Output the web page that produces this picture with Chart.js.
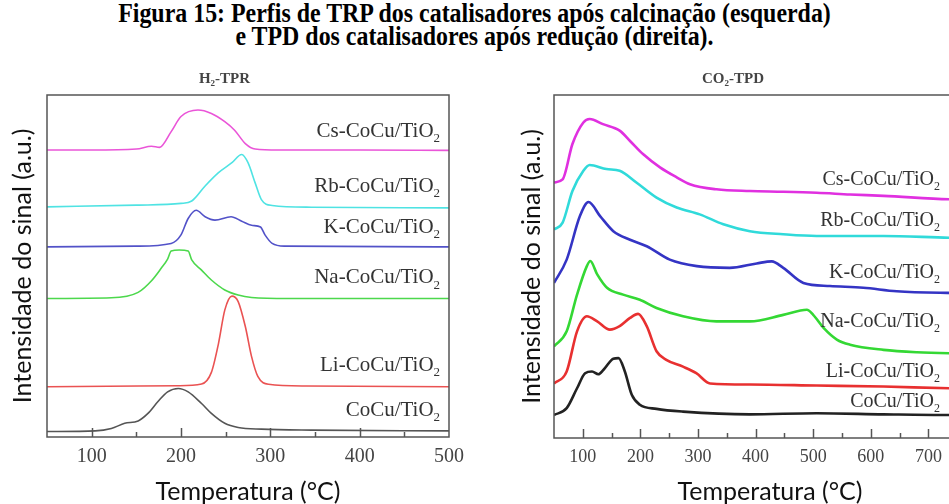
<!DOCTYPE html>
<html>
<head>
<meta charset="utf-8">
<script src="https://cdn.jsdelivr.net/npm/chart.js@4.4.0/dist/chart.umd.min.js"></script>
<style>
html, body { margin: 0; padding: 0; background: #fff; width: 949px; height: 504px; overflow: hidden; }
#caption { position: absolute; left: 0; top: 2px; width: 949px; text-align: center;
  font: bold 27px "Liberation Serif", serif; line-height: 23px; color: #000;
  transform: scaleX(0.885); transform-origin: 474.5px 0; }
.box { position: absolute; top: 60px; height: 444px; }
#leftBox { left: 0; width: 480px; }
#rightBox { left: 480px; width: 530px; }
</style>
</head>
<body>
<div id="caption">Figura 15: Perfis de TRP dos catalisadores após calcinação (esquerda)<br>e TPD dos catalisadores após redução (direita).</div>
<div class="box" id="leftBox"><canvas id="tprChart"></canvas></div>
<div class="box" id="rightBox"><canvas id="tpdChart"></canvas></div>

<script>
// SERIES NAMES (top to bottom)
const seriesNames = ['Cs-CoCu/TiO', 'Rb-CoCu/TiO', 'K-CoCu/TiO', 'Na-CoCu/TiO', 'Li-CoCu/TiO', 'CoCu/TiO'];

// H2-TPR (left) - temperature (°C) and stacked intensity (a.u., offset included)
const tprCsT = [50, 100, 150, 167, 176, 189, 200, 219, 234, 249, 260, 272, 283, 309, 400, 500];
const tprCsY = [83.9, 83.9, 84.2, 85.0, 84.7, 89.3, 93.7, 95.6, 94.6, 92.2, 89.7, 85.8, 84.2, 83.9, 83.9, 83.8];
const tprRbT = [50, 150, 200, 212, 227, 242, 257, 268, 275, 283, 290, 302, 346, 500];
const tprRbY = [67.3, 67.8, 68.3, 69.0, 73.4, 77.3, 80.2, 82.6, 80.2, 74.3, 69.4, 67.7, 67.2, 67.0];
const tprKT = [50, 150, 189, 200, 208, 217, 227, 238, 256, 268, 279, 289, 294, 302, 316, 500];
const tprKY = [55.6, 55.8, 56.6, 59.1, 63.9, 66.3, 64.4, 63.4, 64.4, 63.1, 61.9, 61.4, 59.1, 56.6, 55.8, 55.6];
const tprNaT = [50, 122, 152, 167, 178, 185, 189, 198, 208, 212, 223, 234, 249, 264, 279, 320, 500];
const tprNaY = [40.5, 40.7, 42.3, 45.7, 49.4, 52.0, 54.4, 54.7, 54.4, 51.8, 48.8, 45.9, 43.0, 41.5, 40.8, 40.5, 40.5];
const tprLiT = [50, 197, 223, 234, 242, 249, 257, 264, 272, 279, 286, 298, 340, 500];
const tprLiY = [14.7, 15.0, 15.5, 18.9, 27.4, 37.1, 41.2, 39.6, 32.3, 23.5, 17.7, 15.4, 14.9, 14.7];
const tprCoT = [50, 104, 122, 137, 152, 163, 174, 185, 197, 208, 223, 234, 249, 264, 290, 346, 500];
const tprCoY = [1.6, 1.8, 2.5, 4.0, 4.7, 6.9, 10.3, 13.2, 14.2, 13.2, 9.8, 6.9, 4.0, 2.8, 2.3, 2.0, 1.8];

// CO2-TPD (right)
const tpdCsT = [50, 65, 82, 101, 112, 135, 164, 182, 205, 234, 263, 286, 332, 390, 448, 506, 564, 622, 736, 800];
const tpdCsY = [74.5, 75.4, 85.7, 92.0, 93.0, 91.5, 89.6, 86.6, 82.7, 78.9, 76.0, 74.0, 72.5, 72.0, 71.8, 71.5, 71.0, 70.6, 69.6, 69.4];
const tpdRbT = [50, 65, 82, 101, 112, 141, 164, 193, 228, 263, 303, 344, 390, 448, 506, 622, 736, 800];
const tpdRbY = [60.8, 62.8, 72.0, 77.9, 79.6, 78.4, 77.9, 74.5, 70.1, 67.2, 65.2, 62.3, 60.3, 59.4, 58.9, 58.9, 58.4, 58.3];
const tpdKT = [50, 72, 95, 110, 130, 153, 182, 211, 251, 298, 355, 402, 428, 448, 483, 529, 587, 645, 732, 800];
const tpdKY = [45.2, 52.0, 64.7, 68.8, 64.7, 60.3, 57.8, 55.9, 52.0, 50.1, 49.6, 50.9, 51.5, 49.6, 45.2, 44.3, 43.8, 42.8, 42.3, 42.2];
const tpdNaT = [50, 72, 90, 107, 113, 125, 142, 170, 199, 228, 274, 332, 390, 448, 489, 500, 518, 541, 564, 622, 680, 736, 800];
const tpdNaY = [26.7, 31.1, 41.8, 50.1, 51.6, 47.7, 43.8, 41.8, 40.3, 37.9, 35.5, 34.0, 34.0, 35.9, 37.4, 35.9, 32.1, 28.7, 27.2, 25.7, 25.0, 24.7, 24.6];
const tpdLiT = [50, 72, 90, 107, 125, 147, 164, 182, 196, 211, 228, 245, 274, 297, 321, 390, 506, 622, 736, 800];
const tpdLiY = [15.9, 19.4, 31.1, 35.5, 34.0, 31.6, 32.6, 35.0, 36.2, 32.6, 25.3, 22.8, 20.8, 18.9, 15.9, 15.6, 15.3, 15.0, 14.5, 14.4];
const tpdCoT = [50, 72, 90, 104, 116, 127, 136, 153, 162, 173, 185, 199, 228, 274, 390, 506, 622, 736, 800];
const tpdCoY = [6.7, 8.7, 14.5, 18.9, 19.4, 18.6, 19.9, 23.1, 23.3, 19.4, 12.6, 9.7, 8.5, 7.7, 6.9, 7.2, 6.9, 6.7, 6.7];

const toPoints = (t, v) => t.map((x, i) => ({ x: x, y: v[i] }));

// FRAME, INWARD TICKS AND CURVE LABELS

const framePlugin = {
	id: 'frame',
	afterDatasetsDraw(chart, args, opts) {
		const { ctx, chartArea: a, scales: { x, y } } = chart;
		ctx.save();
		ctx.strokeStyle = '#555';
		ctx.lineWidth = 1.5;
		ctx.strokeRect(a.left, a.top, a.right - a.left, a.bottom - a.top);
		x.ticks.forEach(t => {
			if (t.value <= x.min || t.value >= x.max) return;
			const px = Math.round(x.getPixelForValue(t.value)) + 0.5;
			const len = t.value % 100 === 0 ? 9 : 5;
			ctx.beginPath();
			ctx.moveTo(px, a.bottom);
			ctx.lineTo(px, a.bottom - len);
			ctx.stroke();
		});

		ctx.fillStyle = '#333';
		ctx.textBaseline = 'middle';
		const big = opts.size + 'px "Liberation Serif"';
		const small = Math.round(opts.size * 0.62) + 'px "Liberation Serif"';
		seriesNames.forEach((name, i) => {
			const data = chart.data.datasets[i].data;
			const py = y.getPixelForValue(data[data.length - 1].y + opts.dy[i]);
			const right = x.getPixelForValue(opts.labelX);
			ctx.font = big;
			const w = ctx.measureText(name).width;
			ctx.font = small;
			const ws = ctx.measureText('2').width;
			ctx.font = big;
			ctx.fillText(name, right - w - ws, py);
			ctx.font = small;
			ctx.fillText('2', right - ws, py + opts.size * 0.35);
		});
		ctx.restore();
	}
};

function makeChart(canvasId, cfg) {
	const datasets = cfg.series.map((s, i) => ({
		data: toPoints(s[0], s[1]),
		borderColor: cfg.colors[i],
		borderWidth: cfg.lineWidth,
		pointRadius: 0,
		fill: false,
		tension: 0.4,
		cubicInterpolationMode: 'monotone',
	}));

	return new Chart(document.getElementById(canvasId), {
		type: 'line',
		data: { datasets: datasets },
		options: {
			responsive: true,
			maintainAspectRatio: false,
			animation: false,
			layout: { padding: { top: 0, right: cfg.padRight, bottom: 0, left: 0 } },
			plugins: {
				legend: { display: false },
				tooltip: { enabled: false },
				title: {
					display: true,
					text: cfg.title,
					color: '#444',
					font: { family: '"Liberation Serif"', size: 15, weight: 'bold', lineHeight: 1.2 },
					padding: { top: 10, bottom: 7 },
				},
				frame: { labelX: cfg.labelX, dy: cfg.labelDy, size: cfg.labelSize },
			},
			scales: {
				x: {
					type: 'linear',
					min: cfg.xMin,
					max: cfg.xMax,
					grid: { display: false },
					border: { display: false },
					afterFit: s => { s.height = cfg.xHeight; },
					ticks: {
						stepSize: 50,
						autoSkip: false,
						maxRotation: 0,
						padding: 0,
						color: '#444',
						font: { family: '"Liberation Serif"', size: cfg.tickSize },
						callback: v => (v % 100 === 0 ? v : ''),
					},
					title: {
						display: true,
						text: 'Temperatura (°C)',
						color: '#111',
						font: { family: 'Lato', size: 25, lineHeight: 1 },
						padding: { top: 0, bottom: 0 },
					},
				},
				y: {
					min: 0,
					max: 100,
					grid: { display: false },
					border: { display: false },
					ticks: { display: false },
					afterFit: s => { s.width = cfg.yWidth; },
					title: {
						display: true,
						text: 'Intensidade do sinal (a.u.)',
						color: '#111',
						font: { family: 'Lato', size: 25, lineHeight: 1 },
						padding: { top: cfg.yTitlePad, bottom: 0 },
					},
				},
			},
		},
		plugins: [framePlugin],
	});
}

makeChart('tprChart', {
	title: 'H₂-TPR',
	series: [[tprCsT, tprCsY], [tprRbT, tprRbY], [tprKT, tprKY], [tprNaT, tprNaY], [tprLiT, tprLiY], [tprCoT, tprCoY]],
	colors: ['#ea55d8', '#4fe3e3', '#5252c8', '#4cd84c', '#ea5252', '#555555'],
	lineWidth: 1.6,
	xMin: 50, xMax: 500,
	xHeight: 67, yWidth: 47, yTitlePad: 10, padRight: 31,
	tickSize: 20,
	labelX: 490, labelDy: [5.6, 6.2, 5.6, 6.0, 6.2, 6.0], labelSize: 21,
});

makeChart('tpdChart', {
	title: 'CO₂-TPD',
	series: [[tpdCsT, tpdCsY], [tpdRbT, tpdRbY], [tpdKT, tpdKY], [tpdNaT, tpdNaY], [tpdLiT, tpdLiY], [tpdCoT, tpdCoY]],
	colors: ['#e030e0', '#30dada', '#3434c4', '#34d834', '#e83030', '#222222'],
	lineWidth: 2.6,
	xMin: 50, xMax: 800,
	xHeight: 66, yWidth: 74, yTitlePad: 39, padRight: 24,
	tickSize: 18,
	labelX: 720, labelDy: [6.0, 4.9, 6.0, 9.4, 5.0, 3.9], labelSize: 20,
});
</script>
</body>
</html>
